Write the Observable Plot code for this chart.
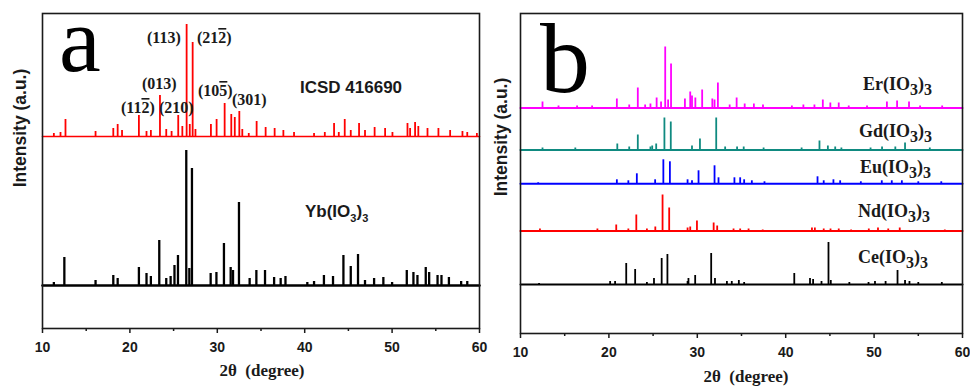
<!DOCTYPE html>
<html><head><meta charset="utf-8">
<script src="https://cdn.jsdelivr.net/npm/d3@7"></script>
<script src="https://cdn.jsdelivr.net/npm/@observablehq/plot@0.6"></script>
<style>
body{margin:0;background:#fff;width:970px;height:386px;overflow:hidden;position:relative}
#a{position:absolute;left:0;top:0}
#b{position:absolute;left:490px;top:0}
</style>
</head><body><div id="a"></div><div id="b"></div>
<script>
// ---------- tick values ----------
const majorTicks = [10, 20, 30, 40, 50, 60];
const minorTicks = [15, 25, 35, 45, 55];

// ---------- panel a ----------
const icsdBase = 192;
const icsdPos = [11.3,12.06,12.63,16.07,18.1,18.6,19.1,21.03,21.9,22.4,23.44,24.16,24.77,25.53,26.0,26.49,26.85,27.18,27.5,29.27,29.92,30.84,31.6,32.0,32.52,32.86,33.6,34.5,35.53,36.56,37.56,38.78,41.07,42.3,43.36,43.9,44.58,45.27,46.22,46.9,48.0,49.2,50.04,51.76,52.06,52.63,53.0,54.05,55.3,56.64,58.05,58.6,59.7];
const icsdInt = [3,4,17,5,8,12,6,21,5,6,41,7,5,21,10,112,12,94,7,12,17,33,22,19,25,7,3,15,9,8,6,4,3,4,13,4,17,6,13,6,9,8,4,13,8,14,10,8,8,6,5,4,3];

const ybBase = 43;
const ybPos = [11.3,12.5,16.07,18.1,18.6,21.03,21.9,22.4,23.36,24.16,24.66,25.1,25.5,26.45,26.8,27.1,29.24,29.9,30.76,31.53,31.8,32.48,33.7,34.47,35.46,36.5,37.25,37.8,40.3,41.07,42.2,43.24,44.43,45.27,46.1,46.9,47.94,49.0,50.0,51.68,52.44,52.9,53.85,54.24,55.2,55.65,56.5,57.9,58.6];
const ybInt = [3,28,5,10,7,18,12,9,45,7,9,20,30,135,17,117,12,13,42,18,15,83,7,15,15,8,7,9,3,4,10,9,30,19,31,5,7,8,3,15,13,10,18,13,10,10,8,4,4];

// ---------- panel b ----------
const erBase = 225.5;
const erPos = [12.49,14.3,16.4,18.1,20.9,22.3,23.27,24.1,24.7,25.4,25.9,26.37,26.7,27.03,28.6,29.2,29.4,29.78,30.55,31.7,31.95,32.33,33.66,34.45,35.36,36.4,37.43,40.7,42.0,43.25,44.2,45.05,46.0,47.13,49.2,51.45,52.6,53.95,55.2,57.7];
const erInt = [6,2,2,2,9,3,20,3,4,10,6,61,8,44,9,16,12,10,18,9,8,25,3,10,4,4,3,2,3,3,8,5,5,2,2,6,7,6,2,2];

const gdBase = 183.5;
const gdPos = [12.49,16.2,20.95,22.3,23.27,24.7,24.9,25.35,26.28,27.0,29.4,30.3,32.14,33.15,34.5,35.25,37.5,41.8,43.82,44.77,45.6,46.3,49.6,50.9,52.4,53.5,56.3];
const gdInt = [2,2,6,3,15,3,4,6,32,28,4,11,32,3,3,3,2,2,9,4,3,2,2,3,3,7,2];

const euBase = 149.7;
const euPos = [12.0,20.9,22.2,23.16,25.23,26.16,26.9,28.9,29.4,30.14,31.95,32.4,34.2,34.85,35.3,36.17,37.6,43.6,44.3,45.4,46.16,48.5,50.87,52.0,53.14,55.0,57.6];
const euInt = [1,4,3,10,4,24,22,4,3,13,18,6,6,6,4,3,2,7,3,4,3,2,3,3,3,2,2];

const ndBase = 102.5;
const ndPos = [12.2,18.7,20.83,22.2,23.1,24.3,25.25,26.07,26.82,28.9,29.2,29.96,31.85,32.25,34.1,34.85,35.8,37.4,42.97,43.3,44.3,45.07,46.0,47.4,49.4,50.44,51.6,52.9,58.0];
const ndInt = [2,2,6,2,16,2,4,36,23,3,4,10,8,5,2,2,2,1,3,3,2,2,2,1,2,3,2,3,1];

const ceBase = 49;
const cePos = [12.1,20.14,20.7,21.96,22.97,24.3,25.1,25.97,26.62,28.9,29.0,29.76,31.57,32.0,33.35,33.9,34.7,35.3,40.97,42.75,43.1,44.05,44.84,45.1,47.2,49.37,50.1,51.3,52.65,53.5,54.0,55.0,57.66];
const ceInt = [1,3,3,21,15,2,6,26,30,3,6,9,31,6,3,3,4,2,11,6,5,3,42,4,2,2,3,3,14,4,3,2,2];

// ---------- labels ----------
const millerText = [["(113)", null], ["(21", "2", ")"], ["(013)", null], ["(11", "2", ")"], ["(210)", null], ["(10", "5", ")"], ["(301)", null]];
const millerX = [22.01, 27.73, 21.44, 19.04, 23.39, 27.85, 31.74];
const millerY = [285, 285, 239, 215, 215, 232, 223];

const bNames = ["Er", "Gd", "Eu", "Nd", "Ce"];
const bLabelX = [48.8, 48.35, 48.46, 48.24, 48.24];
const bLabelY = [243.5, 196.3, 160.3, 116, 70.3];

const SANS = "'Liberation Sans', Arial, sans-serif";
const SERIF = "'Liberation Serif', 'Times New Roman', serif";

function rows(pos, int) { return pos.map((p, i) => ({pos: p, h: int[i]})); }

function makePanel({width, marginLeft, marginRight, marginBottom, yMax, series}) {
  const marks = [];
  for (const s of series) {
    marks.push(Plot.lineY([{x: 10, y: s.base}, {x: 60, y: s.base}], {x: "x", y: "y", stroke: s.color, strokeWidth: s.bw}));
    marks.push(Plot.ruleX(rows(s.pos, s.int), {x: "pos", y1: s.base, y2: d => s.base + d.h, stroke: s.color, strokeWidth: s.pw}));
  }
  marks.push(Plot.frame({stroke: "#1a1a1a", strokeWidth: 1.6}));
  marks.push(Plot.axisX({ticks: majorTicks, tickSize: 5, tickPadding: 9, fontSize: 14, fontWeight: "bold", fontFamily: SANS, strokeWidth: 1.5, stroke: "#1a1a1a", fill: "#1a1a1a", label: null}));
  marks.push(Plot.axisX({ticks: minorTicks, tickSize: 3, tickFormat: () => "", strokeWidth: 1.5, stroke: "#1a1a1a", label: null}));
  return Plot.plot({
    width, height: 386, marginLeft, marginRight, marginTop: 13, marginBottom,
    x: {domain: [10, 60]},
    y: {domain: [0, yMax], axis: null},
    style: {background: "#fff", color: "#1a1a1a", fontFamily: SANS},
    marks
  });
}

// ----- panel a -----
const pa = makePanel({
  width: 490, marginLeft: 42, marginRight: 11, marginBottom: 58, yMax: 315,
  series: [
    {pos: icsdPos, int: icsdInt, base: icsdBase, color: "#ff0000", bw: 1.6, pw: 1.8},
    {pos: ybPos, int: ybInt, base: ybBase, color: "#000000", bw: 2.6, pw: 2.3}
  ]
});
document.getElementById("a").appendChild(pa);

// ----- panel b -----
const bSeries = [
  {pos: erPos, int: erInt, base: erBase, color: "#ff00ff"},
  {pos: gdPos, int: gdInt, base: gdBase, color: "#0f8a80"},
  {pos: euPos, int: euInt, base: euBase, color: "#0000ff"},
  {pos: ndPos, int: ndInt, base: ndBase, color: "#ff0000"},
  {pos: cePos, int: ceInt, base: ceBase, color: "#000000"}
].map(s => ({...s, bw: 2, pw: 1.8}));
const pb = makePanel({
  width: 480, marginLeft: 30, marginRight: 8, marginBottom: 53, yMax: 320,
  series: bSeries
});
document.getElementById("b").appendChild(pb);

// ---------- text annotations ----------
function addText(svg, plot, xv, yv, parts, attrs) {
  const X = plot.scale("x").apply(xv), Y = plot.scale("y").apply(yv);
  const t = d3.select(svg).append("text").attr("x", X).attr("y", Y).attr("text-anchor", "start");
  for (const [k, v] of Object.entries(attrs)) t.attr(k, v);
  for (const p of parts) {
    const ts = t.append("tspan").text(p.t);
    if (p.dy) ts.attr("dy", p.dy);
    if (p.size) ts.attr("font-size", p.size);
    if (p.over) ts.style("text-decoration", "overline");
  }
  return t;
}

function axisTitles(svg, centerX, titleY, yLabelX, yLabelY) {
  d3.select(svg).append("text").attr("x", centerX).attr("y", titleY)
    .attr("text-anchor", "middle").attr("font-family", SERIF).attr("font-weight", "bold")
    .attr("font-size", 17).attr("fill", "#1a1a1a").attr("xml:space", "preserve").text("2\u03b8  (degree)");
  d3.select(svg).append("text").attr("transform", `translate(${yLabelX},${yLabelY}) rotate(-90)`)
    .attr("text-anchor", "middle").attr("dy", "0.35em").attr("font-family", SANS).attr("font-weight", "bold")
    .attr("font-size", 17.5).attr("fill", "#1a1a1a").text("Intensity (a.u.)");
}

// panel a texts
axisTitles(pa, 262, 376, 20, 128);
addText(pa, pa, 11.95, 257, [{t: "a"}], {"font-family": SERIF, "font-size": 94, fill: "#000"});
addText(pa, pa, 39.52, 234.7, [{t: "ICSD 416690"}], {"font-family": SANS, "font-weight": "bold", "font-size": 17, fill: "#1a1a1a"});
addText(pa, pa, 40.09, 111.5, [{t: "Yb(IO"}, {t: "3", dy: 5, size: 11}, {t: ")", dy: -5}, {t: "3", dy: 5, size: 11}], {"font-family": SANS, "font-weight": "bold", "font-size": 17, fill: "#1a1a1a"});
millerText.forEach((m, i) => {
  const parts = m[1] === null ? [{t: m[0]}] : [{t: m[0]}, {t: m[1], over: true}, {t: m[2]}];
  addText(pa, pa, millerX[i], millerY[i], parts, {"font-family": SERIF, "font-weight": "bold", "font-size": 16, fill: "#1a1a1a"});
});

// panel b texts
axisTitles(pb, 256, 382, 11, 137);
addText(pb, pb, 12.26, 241, [{t: "b"}], {"font-family": SERIF, "font-size": 100, fill: "#000"});
bNames.forEach((n, i) => {
  addText(pb, pb, bLabelX[i], bLabelY[i], [{t: n + "(IO"}, {t: "3", dy: 5, size: 16}, {t: ")", dy: -5}, {t: "3", dy: 5, size: 16}],
    {"font-family": SERIF, "font-weight": "bold", "font-size": 18, fill: "#1a1a1a"});
});
</script>
</body></html>
